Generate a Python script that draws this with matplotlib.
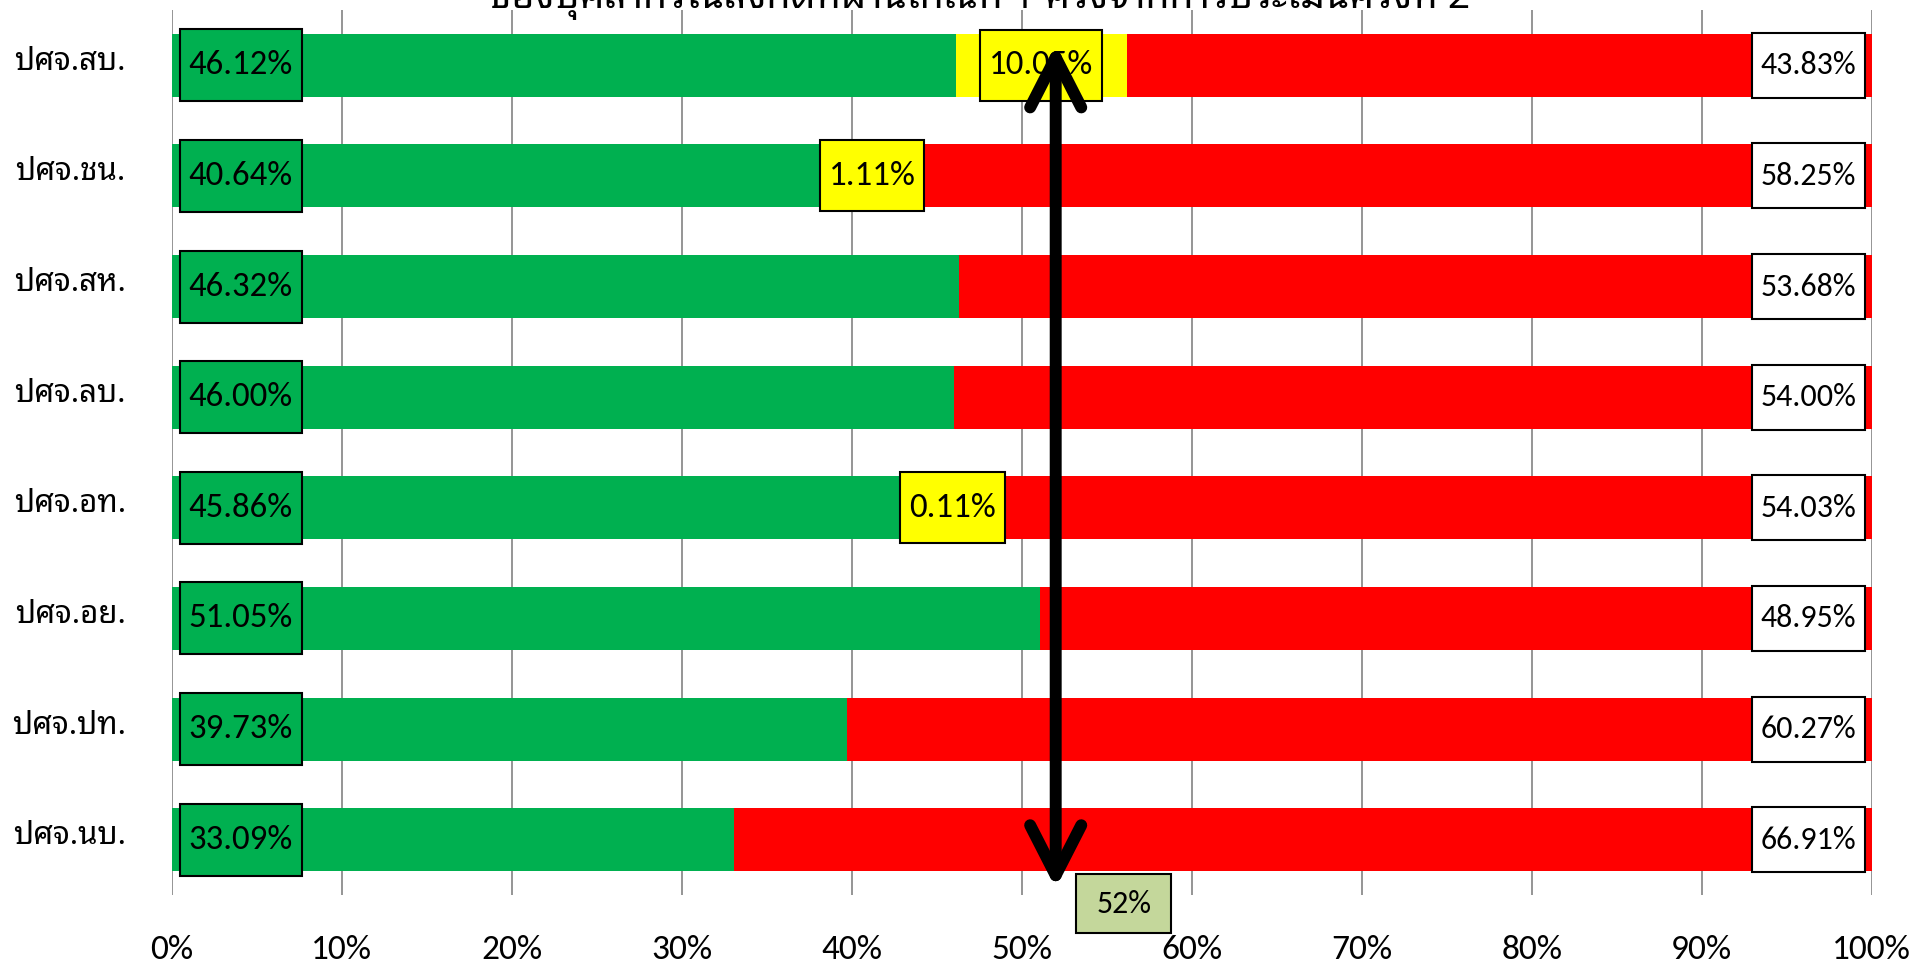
import matplotlib
matplotlib.use("Agg")
import matplotlib.pyplot as plt
from matplotlib.patches import FancyArrowPatch
from matplotlib.path import Path
from matplotlib.transforms import ScaledTranslation
import numpy as np

# ---------------- data ----------------
categories = ["ปศจ.สบ.", "ปศจ.ชน.", "ปศจ.สห.", "ปศจ.ลบ.",
              "ปศจ.อท.", "ปศจ.อย.", "ปศจ.ปท.", "ปศจ.นบ."]
passed = [46.12, 40.64, 46.32, 46.00, 45.86, 51.05, 39.73, 33.09]
partial = [10.05, 1.11, 0.0, 0.0, 0.11, 0.0, 0.0, 0.0]
failed = [43.83, 58.25, 53.68, 54.00, 54.03, 48.95, 60.27, 66.91]
target = 52
x_ticks = [0, 10, 20, 30, 40, 50, 60, 70, 80, 90, 100]
x_tick_labels = [f"{t}%" for t in x_ticks]
title = "ของบุคลากรในสังกัดที่ผ่านเกณฑ์ 1 ครั้งจากการประเมินครั้งที่ 2"

# ---------------- style ----------------
FONTS = ['Carlito', 'Noto Sans Thai Looped', 'Noto Sans Thai', 'DejaVu Sans']
THAI = ['Noto Sans Thai Looped', 'Noto Sans Thai', 'DejaVu Sans']
plt.rcParams['font.family'] = FONTS
GREEN = '#00B050'
YELLOW = '#FFFF00'
RED = '#FF0000'
TARGET_BOX = '#C4D79B'
GRID = '#8C8C8C'

W, H, DPI = 1915, 968, 100
fig = plt.figure(figsize=(W / DPI, H / DPI), dpi=DPI)
ax = fig.add_axes([171.7 / W, 1 - 895 / H, 1700 / W, 885 / H])

y = np.arange(len(categories))
bh = 0.57
ax.barh(y, passed, height=bh, color=GREEN, zorder=2)
ax.barh(y, partial, left=passed, height=bh, color=YELLOW, zorder=2)
left_red = np.array(passed) + np.array(partial)
ax.barh(y, failed, left=left_red, height=bh, color=RED, zorder=2)

ax.set_xlim(0, 100)
ax.set_ylim(len(categories) - 0.5, -0.5)
ax.set_xticks(x_ticks)
ax.set_xticklabels(x_tick_labels, fontsize=25.5)
ax.set_yticks(y)
ax.set_yticklabels(categories, fontsize=22.5, family=THAI)
ax.tick_params(axis='x', length=0, pad=29)
ax.tick_params(axis='y', length=0, pad=33)
up = ScaledTranslation(0, 5 / 72, fig.dpi_scale_trans)
for t in ax.get_yticklabels():
    t.set_transform(t.get_transform() + up)
for s in ax.spines.values():
    s.set_visible(False)
ax.grid(axis='x', color=GRID, linewidth=1.3)
ax.grid(axis='y', visible=False)
ax.set_axisbelow(True)


def fixed_box(padx, box_h):
    def style(x0, y0, width, height, mutation_size):
        cy = y0 + height / 2
        xl, xr = x0 - padx, x0 + width + padx
        yb, yt = cy - box_h / 2, cy + box_h / 2
        return Path([(xl, yb), (xr, yb), (xr, yt), (xl, yt), (xl, yb)],
                    [Path.MOVETO, Path.LINETO, Path.LINETO, Path.LINETO, Path.CLOSEPOLY])
    return style


def label(text, xy, dx, ha, face, padx, box_h, fs):
    ax.annotate(text, xy=xy, xytext=(dx, 0), textcoords='offset pixels',
                ha=ha, va='center', fontsize=fs, color='black', zorder=5,
                bbox=dict(boxstyle=fixed_box(padx, box_h), facecolor=face,
                          edgecolor='black', linewidth=1.5))


for i in range(len(categories)):
    label(f"{passed[i]:.2f}%", (0, i), 8 + 9, 'left', GREEN, 9, 72, 25)
    label(f"{failed[i]:.2f}%", (100, i), -(7 + 8.5), 'right', 'white', 8.5, 65, 23)
    if partial[i] > 0:
        label(f"{partial[i]:.2f}%", (passed[i] + partial[i] / 2, i), 0, 'center',
              YELLOW, 9, 71, 25)

# target arrow
arrow = FancyArrowPatch((target, -0.19), (target, len(categories) - 0.56),
                        arrowstyle='<->,head_length=1.8,head_width=0.92',
                        mutation_scale=20, linewidth=8.6, color='black',
                        shrinkA=0, shrinkB=0, capstyle='round', joinstyle='round',
                        zorder=8, clip_on=False)
ax.add_patch(arrow)

ax.annotate(f"{target}%", xy=(target + 4, len(categories) - 0.42), ha='center',
            va='center', fontsize=23, zorder=9, annotation_clip=False,
            bbox=dict(boxstyle=fixed_box(20, 59), facecolor=TARGET_BOX,
                      edgecolor='black', linewidth=1.5))

fig.text(980 / W, 1 - 8 / H, title, ha='center', va='baseline', fontsize=28,
         fontweight='bold', family=THAI)

fig.savefig("out.png", dpi=DPI)
